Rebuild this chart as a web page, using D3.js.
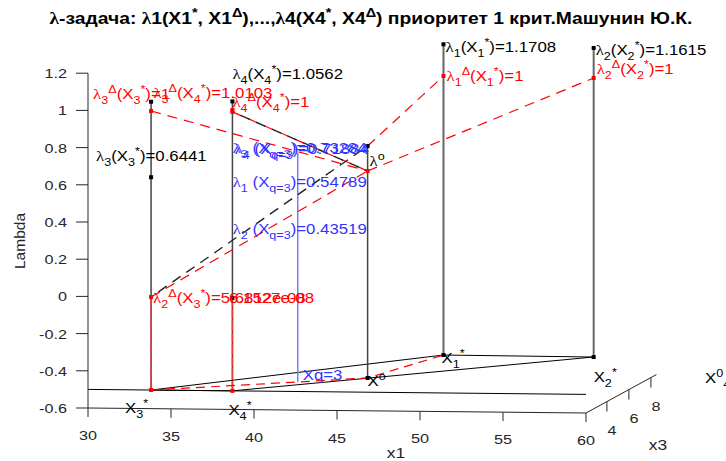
<!DOCTYPE html>
<html><head><meta charset="utf-8">
<script src="https://cdn.jsdelivr.net/npm/d3@7"></script>
<style>body{margin:0;background:#fff}svg{display:block}</style>
</head><body>
<svg id="chart" width="726" height="461"></svg>
<script>
// ---------- data ----------
const zTicks = [-0.6,-0.4,-0.2,0,0.2,0.4,0.6,0.8,1,1.2];
const x1Ticks = [30,35,40,45,50,55,60];
const x3Ticks = [4,6,8];
// points: X3*, X4*, Xq, X0, X1*, X2*
const pointNames = ["X3*","X4*","Xq","X0","X1*","X2*"];
const pointX1 = [33.8, 38.7, 41.6, 45.3, 47.3, 56.4];
const pointX3 = [2.1, 2.1, 3.66, 4.43, 8.31, 8.23];
const floorZ = -0.5;
const stemTop = [1.05, 1.0562, 0.73284, 0.747, 1.1708, 1.1615];
const blackDots = [[0,1.05],[0,0.6441],[1,1.0562],[1,0],[3,0.747],[3,-0.5],[4,1.1708],[4,-0.5],[5,1.1615],[5,-0.5]];
const redDots = [[0,1],[0,0],[0,-0.5],[1,1],[1,1.0103],[1,-0.5],[3,0.613],[4,1],[5,1]];
const redStems = [[0,0],[1,0]];
const redDashed = [[[0,1],[3,0.613]], [[1,1],[3,0.613]], [[0,0],[3,0.613]], [[3,0.613],[5,1]], [[3,0.747],[4,1]]];
const blackDashed = [[[1,1],[3,0.613]], [[0,0],[3,0.747]]];
const floorRedPath = [0,2,3,4];
const floorBlackPath = [0,4,5,1,0];

// labels: [text, pointIndex, z, dx, dy, color]
const labels = [
 ["λ_1(X_1^*)=1.1708",4,1.1708,2,8,"#000"],
 ["λ_2(X_2^*)=1.1615",5,1.1615,2,7,"#000"],
 ["λ_1^Δ(X_1^*)=1",4,1,3,5,"#f00"],
 ["λ_2^Δ(X_2^*)=1",5,1,3,-4,"#f00"],
 ["λ_4(X_4^*)=1.0562",1,1.0562,0,-22,"#000"],
 ["λ_3^Δ(X_3^*)=1",0,1,-58,-12,"#f00"],
 ["λ_3^Δ(X_4^*)=1.0103",1,1.0103,-79,-12,"#f00"],
 ["λ_4^Δ(X_4^*)=1",1,1,0,-5,"#f00"],
 ["λ_3(X_3^*)=0.6441",0,0.6441,-55,-16,"#000"],
 ["λ^o",3,0.613,2,-5,"#000"],
 ["λ_4 (X_{q=3})=0.71884",2,0.73284,-63,1,"#33f"],
 ["λ_3 (X_{q=3})=0.73284",2,0.73284,-65,0,"#33f"],
 ["λ_1 (X_{q=3})=0.54789",2,0.54789,-65,0,"#33f"],
 ["λ_2 (X_{q=3})=0.43519",2,0.43519,-65,26,"#33f"],
 ["λ_2^Δ(X_3^*)=5.6812e-08",0,0,2,6,"#f00"],
 ["6.1527e-08",0,0,78,6,"#f00"],
 ["Xq=3",2,-0.5,5,-2,"#33f"],
 ["X^o",3,-0.5,0,8,"#000"],
 ["X_1^*",4,-0.5,-2,8,"#000"],
 ["X_2^*",5,-0.5,0,25,"#000"],
 ["X_3^*",0,-0.5,-26,23,"#000"],
 ["X_4^*",1,-0.5,-4,24,"#000"]
];

// ---------- projection built from scales ----------
const x1H = d3.scaleLinear().domain([30,60]).range([88,586]);
const x1V = d3.scaleLinear().domain([30,60]).range([0,5]);
const x3H = d3.scaleLinear().domain([2.1,8.5]).range([0,70.4]);
const x3V = d3.scaleLinear().domain([2.1,8.5]).range([0,-38.4]);
const zV = d3.scaleLinear().domain([-0.6,1.2]).range([408,73.2]);
function proj(x1,x3,z){ return [x1H(x1)+x3H(x3), zV(z)+x1V(x1)+x3V(x3)]; }
function pp(i,z){ return proj(pointX1[i],pointX3[i],z); }

const svg = d3.select("#chart");
const FONT = "'Liberation Sans', Arial, sans-serif";
const axisColor = "#262626";
const KX = 1.2; // horizontal stretch of the reference's glyphs

function rich(g, str, size){
  const parts=[]; let i=0;
  while(i<str.length){
    const c=str[i];
    if(c==='_'||c==='^'){
      let t;
      if(str[i+1]==='{'){const j=str.indexOf('}',i); t=str.slice(i+2,j); i=j+1;}
      else {t=str[i+1]; i+=2;}
      parts.push({t,m:c});
    } else {
      let j=i; while(j<str.length&&str[j]!=='_'&&str[j]!=='^') j++;
      parts.push({t:str.slice(i,j),m:''}); i=j;
    }
  }
  let cur=0;
  parts.forEach(p=>{
    const off = p.m==='_'? size*0.35 : p.m==='^'? -size*0.45 : 0;
    const segs = p.t.split(/(λ)/).filter(s=>s.length);
    segs.forEach((s,k)=>{
      const ts = g.append("tspan").attr("font-size", p.m? size*0.75 : size).text(s);
      if(k===0) ts.attr("dy", off-cur);
      if(s==='λ') ts.attr("font-family","'Liberation Serif', serif");
    });
    cur=off;
  });
}
function stext(x,y,kx){ return svg.append("text").attr("transform",`translate(${x},${y}) scale(${kx},1)`).attr("font-family",FONT); }

// ---------- title ----------
const title = stext(371,24,1.17).attr("text-anchor","middle").attr("font-weight","bold").attr("fill","#000");
rich(title,"λ-задача: λ1(X1^*, X1^Δ),...,λ4(X4^*, X4^Δ) приоритет 1 крит.Машунин Ю.К.",16.5);

// ---------- axes ----------
const ax = svg.append("g").attr("stroke",axisColor).attr("stroke-width",1).attr("fill","none");
ax.append("line").attr("x1",proj(30,2.1,-0.6)[0]).attr("y1",zV(-0.6)).attr("x2",proj(30,2.1,1.2)[0]).attr("y2",zV(1.2));
zTicks.forEach(t=>{
  const p=proj(30,2.1,t);
  ax.append("line").attr("x1",p[0]-12).attr("y1",p[1]).attr("x2",p[0]).attr("y2",p[1]);
  stext(p[0]-21,p[1]+5,KX).attr("text-anchor","end").attr("font-size",13.5).attr("fill",axisColor).text(String(t));
});
{const a=proj(30,2.1,-0.6), b=proj(60,2.1,-0.6);
 ax.append("line").attr("x1",a[0]).attr("y1",a[1]).attr("x2",b[0]).attr("y2",b[1]);}
x1Ticks.forEach(t=>{
  const p=proj(t,2.1,-0.6);
  ax.append("line").attr("x1",p[0]).attr("y1",p[1]).attr("x2",p[0]).attr("y2",p[1]+9);
  stext(p[0],p[1]+32,KX).attr("text-anchor","middle").attr("font-size",13.5).attr("fill",axisColor).text(String(t));
});
{const a=proj(60,2.1,-0.6), b=proj(60,8.5,-0.6);
 ax.append("line").attr("x1",a[0]).attr("y1",a[1]).attr("x2",b[0]).attr("y2",b[1]);}
x3Ticks.forEach(t=>{
  const p=proj(60,t,-0.6);
  ax.append("line").attr("x1",p[0]).attr("y1",p[1]).attr("x2",p[0]).attr("y2",p[1]+10);
  stext(p[0]+5,p[1]+33,KX).attr("text-anchor","middle").attr("font-size",13.5).attr("fill",axisColor).text(String(t));
});
svg.append("text").attr("transform","translate(25,241) rotate(-90)").attr("text-anchor","middle")
  .attr("font-family",FONT).attr("font-size",15.5).attr("fill",axisColor).text("Lambda");
stext(396,458,KX).attr("text-anchor","middle").attr("font-size",14.5).attr("fill",axisColor).text("x1");
stext(658,450,KX).attr("text-anchor","middle").attr("font-size",14.5).attr("fill",axisColor).text("x3");
rich(stext(705,383,KX).attr("fill","#000"),"X^0_4",14);

// ---------- floor ----------
const line = d3.line();
const plot = svg.append("g").attr("fill","none");
plot.append("path").attr("d",line([proj(30,2.1,floorZ),proj(60,2.1,floorZ)])).attr("stroke","#000").attr("stroke-width",1);
plot.append("path").attr("d",line(floorBlackPath.map(i=>pp(i,floorZ)))).attr("stroke","#000").attr("stroke-width",1);

// stems
pointNames.forEach((n,i)=>{
  plot.append("path").attr("d",line([pp(i,floorZ),pp(i,stemTop[i])]))
    .attr("stroke", i===2? "#7777ff" : (i>=4? "#666" : "#444")).attr("stroke-width", i===2?1.5:(i>=4?2:1.5));
});
redStems.forEach(([i,z])=>{
  plot.append("path").attr("d",line([pp(i,floorZ),pp(i,z)])).attr("stroke","#f33").attr("stroke-width",1.5)
   .attr("stroke-dasharray","10,2");
});
plot.append("path").attr("d",line(floorRedPath.map(i=>pp(i,floorZ)))).attr("stroke","#f00").attr("stroke-width",1.2).attr("stroke-dasharray","9,6");

redDashed.forEach(seg=>{
  plot.append("path").attr("d",line(seg.map(([i,z])=>pp(i,z)))).attr("stroke","#f00").attr("stroke-width",1.2).attr("stroke-dasharray","10,7");
});
blackDashed.forEach(seg=>{
  plot.append("path").attr("d",line(seg.map(([i,z])=>pp(i,z)))).attr("stroke","#222").attr("stroke-width",1.4)
    .attr("stroke-dasharray","10,7").attr("stroke-dashoffset",-9);
});

// dots
svg.append("g").selectAll("rect").data(blackDots).join("rect")
  .attr("x",d=>pp(d[0],d[1])[0]-2).attr("y",d=>pp(d[0],d[1])[1]-2).attr("width",4).attr("height",4).attr("fill","#000");
svg.append("g").selectAll("rect").data(redDots).join("rect")
  .attr("x",d=>pp(d[0],d[1])[0]-2).attr("y",d=>pp(d[0],d[1])[1]-2).attr("width",4).attr("height",4).attr("fill","#f00");

// labels
labels.forEach(([txt,i,z,dx,dy,col])=>{
  const p=pp(i,z);
  rich(stext(p[0]+dx,p[1]+dy,KX).attr("fill",col),txt,14);
});
</script>
</body></html>
